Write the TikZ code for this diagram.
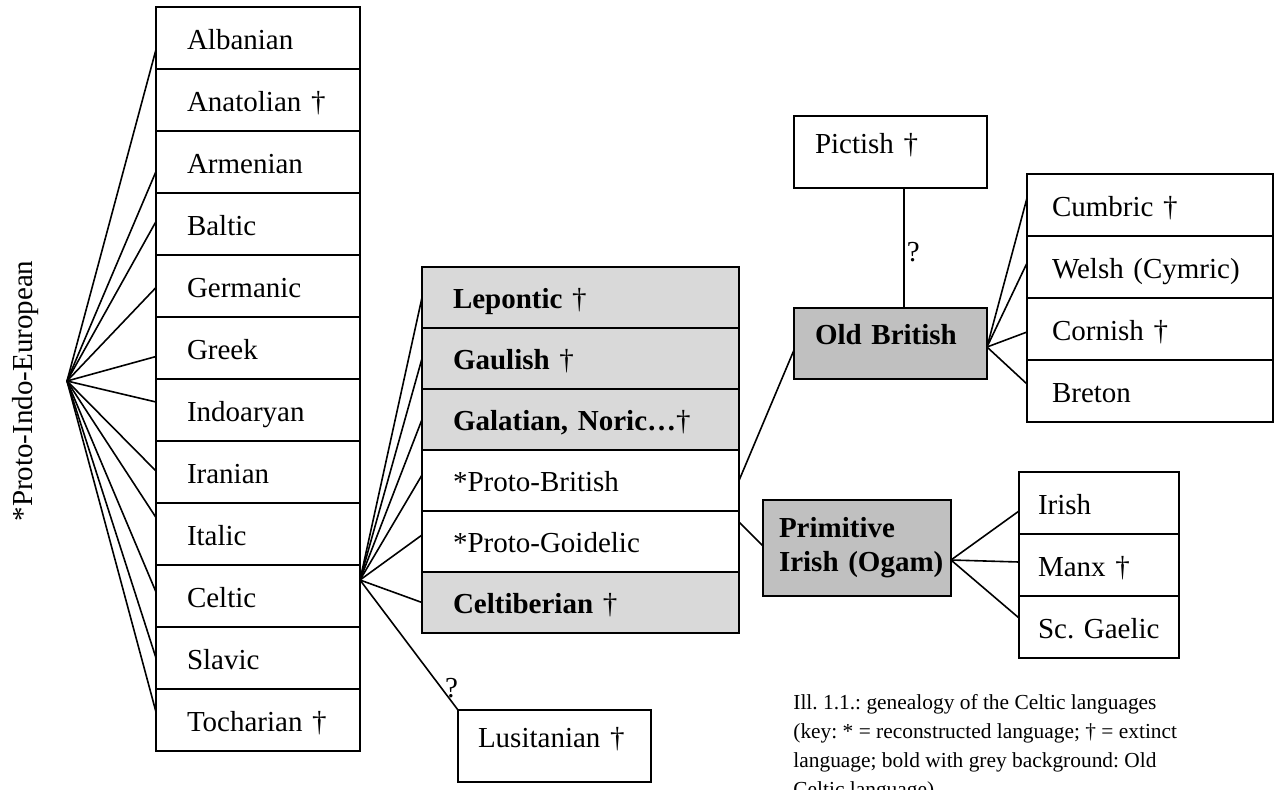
\documentclass[tikz,border=0pt]{standalone}
\usepackage{fontspec}
\setmainfont{Liberation Serif}
\usepackage{tikz}
\usetikzlibrary{positioning}
\hyphenpenalty=10000
\frenchspacing

\definecolor{lightgrey}{RGB}{217,217,217}
\definecolor{midgrey}{RGB}{192,192,192}

\tikzset{
	lang/.style={draw, line width=1.1pt, outer sep=0pt, align=left, font=\fontsize{14.5}{17}\selectfont},
	row/.style={lang, text height=11pt, text depth=0pt},
	solo/.style={lang, text height=6pt, text depth=5pt},
	piecol/.style={row, minimum width=102pt, minimum height=31pt, text width=71pt, inner xsep=15.5pt},
	celtcol/.style={row, minimum width=158.5pt, minimum height=30.5pt, text width=127.5pt, inner xsep=15.5pt},
	brycol/.style={row, minimum width=123pt, minimum height=31pt, text width=98pt, inner xsep=12.5pt},
	goicol/.style={row, minimum width=80pt, minimum height=31pt, text width=61pt, inner xsep=9.5pt},
	oldceltic/.style={fill=lightgrey},
	oldstage/.style={fill=midgrey},
	branch/.style={line width=0.8pt},
}

\begin{document}
\begin{tikzpicture}[x=0.5pt, y=-0.5pt]
	%\draw[help lines] (0,0) grid[step=50] (1282,789);
	\useasboundingbox (0,0) rectangle (1282,789);
	\node[rotate=90, font=\fontsize{14.5}{17}\selectfont] (pie) at (26,391) {*Proto-Indo-European};
	\coordinate (pieroot) at (67,381);

	\node[piecol, anchor=north west] (albanian) at (156,7) {Albanian};
	\node[piecol, below=0pt of albanian] (anatolian) {Anatolian †};
	\node[piecol, below=0pt of anatolian] (armenian) {Armenian};
	\node[piecol, below=0pt of armenian] (baltic) {Baltic};
	\node[piecol, below=0pt of baltic] (germanic) {Germanic};
	\node[piecol, below=0pt of germanic] (greek) {Greek};
	\node[piecol, below=0pt of greek] (indoaryan) {Indoaryan};
	\node[piecol, below=0pt of indoaryan] (iranian) {Iranian};
	\node[piecol, below=0pt of iranian] (italic) {Italic};
	\node[piecol, below=0pt of italic] (celtic) {Celtic};
	\node[piecol, below=0pt of celtic] (slavic) {Slavic};
	\node[piecol, below=0pt of slavic] (tocharian) {Tocharian †};

	\node[celtcol, oldceltic, anchor=north west] (lepontic) at (422,267) {\textbf{Lepontic} †};
	\node[celtcol, oldceltic, below=0pt of lepontic] (gaulish) {\textbf{Gaulish} †};
	\node[celtcol, oldceltic, below=0pt of gaulish] (galatian) {\textbf{Galatian, Noric…}†};
	\node[celtcol, below=0pt of galatian] (protobrit) {*Proto-British};
	\node[celtcol, below=0pt of protobrit] (protogoid) {*Proto-Goidelic};
	\node[celtcol, oldceltic, below=0pt of protogoid] (celtiberian) {\textbf{Celtiberian} †};
	\node[solo, anchor=north west, minimum width=96.5pt, minimum height=36pt, text width=76.5pt, inner xsep=10pt] (lusitanian) at (458,710) {Lusitanian †};

	\node[solo, anchor=north west, minimum width=96.5pt, minimum height=36pt, text width=75.5pt, inner xsep=10.5pt] (pictish) at (794,116) {Pictish †};
	\node[solo, oldstage, anchor=north west, minimum width=96.5pt, minimum height=35.5pt, text width=75.5pt, inner xsep=10.5pt] (oldbritish) at (794,308) {\textbf{Old British}};
	\node[lang, oldstage, anchor=north west, minimum width=94pt, minimum height=48pt, text width=78pt, inner xsep=8pt, font=\fontsize{14.5}{17}\selectfont\bfseries] (primirish) at (763,500) {Primitive\\\mbox{Irish (Ogam)}};

	\node[brycol, anchor=north west] (cumbric) at (1027,174) {Cumbric †};
	\node[brycol, below=0pt of cumbric] (welsh) {Welsh (Cymric)};
	\node[brycol, below=0pt of welsh] (cornish) {Cornish †};
	\node[brycol, below=0pt of cornish] (breton) {Breton};

	\node[goicol, anchor=north west] (irish) at (1019,472) {Irish};
	\node[goicol, below=0pt of irish] (manx) {Manx †};
	\node[goicol, below=0pt of manx] (scgaelic) {\mbox{Sc. Gaelic}};

	\draw[branch] (pieroot) -- ([yshift=-5.75pt]albanian.west);
	\draw[branch] (pieroot) -- ([yshift=-4.75pt]armenian.west);
	\draw[branch] (pieroot) -- ([yshift=1.25pt]baltic.west);
	\draw[branch] (pieroot) -- ([yshift=-0.75pt]germanic.west);
	\draw[branch] (pieroot) -- ([yshift=-4.25pt]greek.west);
	\draw[branch] (pieroot) -- ([yshift=4pt]indoaryan.west);
	\draw[branch] (pieroot) -- ([yshift=0.5pt]iranian.west);
	\draw[branch] (pieroot) -- ([yshift=8.25pt]italic.west);
	\draw[branch] (pieroot) -- ([yshift=2pt]celtic.west);
	\draw[branch] (pieroot) -- (slavic.west);
	\draw[branch] (pieroot) -- ([yshift=4pt]tocharian.west);

	\coordinate (celtroot) at ([yshift=8pt]celtic.east);
	\draw[branch] (celtroot) -- (lepontic.west);
	\draw[branch] (celtroot) -- (gaulish.west);
	\draw[branch] (celtroot) -- (galatian.west);
	\draw[branch] (celtroot) -- ([yshift=2.75pt]protobrit.west);
	\draw[branch] (celtroot) -- ([yshift=3.25pt]protogoid.west);
	\draw[branch] (celtroot) -- (celtiberian.west);
	\draw[branch] (celtroot) -- node[pos=0.83, right, inner sep=1.5pt, font=\fontsize{14.5}{17}\selectfont] {?} (lusitanian.north west);

	\draw[branch] (protobrit.east) -- ([yshift=-3.25pt]oldbritish.west);
	\draw[branch] ([xshift=6.75pt]pictish.south) -- node[pos=0.53, right, inner sep=1pt, font=\fontsize{14.5}{17}\selectfont] {?} ([xshift=6.75pt]oldbritish.north);
	\coordinate (britroot) at ([yshift=-1.75pt]oldbritish.east);
	\draw[branch] (britroot) -- ([yshift=3.5pt]cumbric.west);
	\draw[branch] (britroot) -- ([yshift=2pt]welsh.west);
	\draw[branch] (britroot) -- ([yshift=-1.5pt]cornish.west);
	\draw[branch] (britroot) -- ([yshift=3.5pt]breton.west);

	\draw[branch] ([yshift=9.75pt]protogoid.east) -- ([yshift=1pt]primirish.west);
	\coordinate (goidroot) at ([yshift=-6pt]primirish.east);
	\draw[branch] (goidroot) -- ([yshift=-4pt]irish.west);
	\draw[branch] (goidroot) -- ([yshift=1.5pt]manx.west);
	\draw[branch] (goidroot) -- ([yshift=4.5pt]scgaelic.west);

	\node[anchor=north west, inner sep=0pt, align=left, font=\fontsize{10.7}{14.5}\selectfont] (caption) at (793,694) {Ill. 1.1.: genealogy of the Celtic languages\\(key: * = reconstructed language; † = extinct\\language; bold with grey background: Old\\Celtic language)};
\end{tikzpicture}
\end{document}
